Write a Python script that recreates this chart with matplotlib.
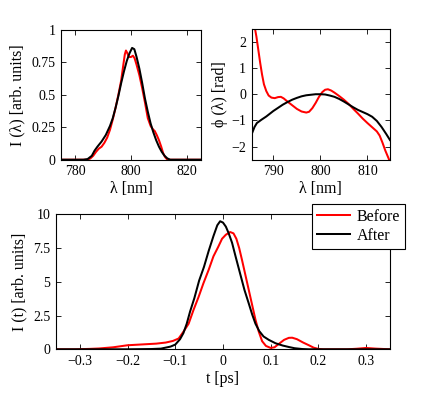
import matplotlib
matplotlib.use('Agg')
import matplotlib.pyplot as plt

# spectral intensity
lam_before = [775, 784.5, 785.5, 786.5, 787.5, 788.5, 789.5, 790.5, 791.5, 792.5, 793.5, 794.5,
              795.5, 796.5, 797.2, 797.8, 798.2, 798.7, 799.2, 800, 800.7, 801.3, 802, 803, 804,
              805, 806, 807, 807.8, 808.5, 809.2, 810, 810.8, 811.5, 812.2, 813, 825]
spec_before = [0, 0, 0.01, 0.03, 0.06, 0.085, 0.10, 0.13, 0.17, 0.23, 0.31, 0.40,
               0.50, 0.61, 0.72, 0.81, 0.84, 0.82, 0.79, 0.79, 0.80, 0.78, 0.73, 0.65, 0.55,
               0.44, 0.32, 0.26, 0.235, 0.22, 0.19, 0.15, 0.10, 0.05, 0.02, 0, 0]
lam_after = [775, 783, 784.5, 786, 787, 788, 789.5, 791, 792.5, 793.5, 794.5, 795.5, 796.5,
             797.5, 798.5, 799.5, 800.4, 801.2, 802, 803, 804, 805, 806, 807, 808, 809, 810,
             811, 812, 813, 814, 825]
spec_after = [0, 0, 0.005, 0.03, 0.07, 0.10, 0.14, 0.19, 0.26, 0.32, 0.40, 0.49, 0.59,
              0.68, 0.76, 0.82, 0.86, 0.85, 0.79, 0.70, 0.59, 0.47, 0.37, 0.28, 0.21, 0.15, 0.10,
              0.06, 0.03, 0.01, 0, 0]

# spectral phase
plam_before = [786.0, 786.4, 786.8, 787.2, 787.6, 788.0, 788.5, 789.0, 789.6, 790.3, 791.0,
               791.6, 792.2, 793.0, 794.0, 795.0, 796.0, 797.0, 797.6, 798.3, 799.0, 799.7,
               800.4, 801.0, 801.6, 802.3, 803.0, 804.0, 805.0, 806.0, 807.0, 808.0, 809.0,
               810.0, 811.0, 812.0, 812.6, 813.2, 813.8, 814.5, 814.8]
phase_before = [2.6, 2.2, 1.7, 1.2, 0.75, 0.38, 0.12, -0.05, -0.13, -0.15, -0.11,
                -0.10, -0.16, -0.28, -0.42, -0.56, -0.66, -0.70, -0.67, -0.53, -0.33, -0.10,
                0.08, 0.17, 0.19, 0.14, 0.06, -0.07, -0.21, -0.37, -0.56, -0.74, -0.93,
                -1.10, -1.26, -1.42, -1.58, -1.85, -2.15, -2.45, -2.6]
plam_after = [785.4, 786, 786.5, 787.5, 788.5, 790, 791, 792, 793, 794, 795, 796, 797, 798,
              799, 800, 801, 802, 803, 804, 805, 806, 807, 808, 809, 810, 811, 812, 813, 814, 814.8]
phase_after = [-1.52, -1.25, -1.10, -0.97, -0.85, -0.64, -0.52, -0.40, -0.30, -0.21, -0.14,
               -0.08, -0.04, -0.02, 0.0, 0.0, -0.01, -0.05, -0.10, -0.18, -0.28, -0.39, -0.50,
               -0.60, -0.68, -0.76, -0.86, -1.02, -1.25, -1.52, -1.75]

# temporal intensity
t_before = [-0.35, -0.31, -0.28, -0.26, -0.23, -0.2, -0.17, -0.14, -0.12, -0.105, -0.093,
            -0.083, -0.072, -0.062, -0.051, -0.041, -0.030, -0.020, -0.010, -0.002, 0.006,
            0.015, 0.022, 0.028, 0.034, 0.040, 0.047, 0.054, 0.061, 0.068, 0.075, 0.082, 0.090,
            0.1, 0.108, 0.117, 0.128, 0.138, 0.145, 0.155, 0.168, 0.18, 0.19, 0.2, 0.21, 0.26,
            0.28, 0.3, 0.32, 0.35]
it_before = [0, 0, 0.03, 0.06, 0.15, 0.3, 0.36, 0.42, 0.5, 0.62, 0.8,
             1.3, 1.9, 2.9, 3.9, 4.9, 5.9, 6.9, 7.6, 8.2, 8.5,
             8.7, 8.6, 8.2, 7.5, 6.6, 5.5, 4.4, 3.3, 2.2, 1.3, 0.6, 0.25,
             0.1, 0.15, 0.4, 0.7, 0.85, 0.86, 0.75, 0.5, 0.3, 0.12, 0.03, 0, 0,
             0.04, 0.1, 0.05, 0]
t_after = [-0.35, -0.2, -0.15, -0.13, -0.11, -0.10, -0.09, -0.083, -0.076, -0.069, -0.06,
           -0.05, -0.04, -0.03, -0.02, -0.012, -0.006, 0.0, 0.006, 0.012, 0.019, 0.027, 0.036,
           0.045, 0.054, 0.061, 0.068, 0.076, 0.085, 0.096, 0.11, 0.125, 0.138, 0.15, 0.166,
           0.18, 0.35]
it_after = [0, 0, 0.02, 0.05, 0.2, 0.35, 0.75, 1.2, 1.9, 2.8, 3.8,
            5.1, 6.1, 7.3, 8.4, 9.2, 9.5, 9.4, 9.1, 8.6, 7.9, 6.8, 5.6,
            4.4, 3.4, 2.6, 1.9, 1.35, 0.95, 0.7, 0.45, 0.28, 0.17, 0.08, 0.02,
            0, 0]

spec_xticks = [780, 800, 820]
spec_yticks = [0, 0.25, 0.5, 0.75, 1]
spec_ylabels = ['0', '0.25', '0.5', '0.75', '1']
phase_xticks = [790, 800, 810]
phase_yticks = [-2, -1, 0, 1, 2]
time_xticks = [-0.3, -0.2, -0.1, 0, 0.1, 0.2, 0.3]
time_xlabels = ['\u22120.3', '\u22120.2', '\u22120.1', '0', '0.1', '0.2', '0.3']
time_yticks = [0, 2.5, 5, 7.5, 10]
time_ylabels = ['0', '2.5', '5', '7.5', '10']

plt.rcParams['font.family'] = ['Liberation Serif', 'DejaVu Serif']
plt.rcParams['font.size'] = 10

RED = '#ff0000'
LW = 1.45
LABEL_FS = 11.5

fig = plt.figure(figsize=(4.31, 3.93), dpi=100)
ax1 = fig.add_axes([0.1415, 0.5936, 0.3248, 0.3308])
ax2 = fig.add_axes([0.584, 0.5936, 0.3209, 0.3333])
ax3 = fig.add_axes([0.1299, 0.1112, 0.775, 0.343])

for ax in (ax1, ax2, ax3):
    ax.tick_params(direction='in', top=True, right=True, length=3.5, width=0.6, labelsize=10, pad=4)
    for s in ax.spines.values():
        s.set_linewidth(0.8)

ax1.plot(lam_before, spec_before, color=RED, lw=LW)
ax1.plot(lam_after, spec_after, color='black', lw=LW)
ax1.set_xlim(775, 825)
ax1.set_ylim(0, 1)
ax1.set_xticks(spec_xticks)
ax1.set_yticks(spec_yticks)
ax1.set_yticklabels(spec_ylabels)
ax1.set_xlabel('\u03bb [nm]', fontsize=LABEL_FS, labelpad=2)
ax1.set_ylabel('I (\u03bb) [arb. units]', fontsize=LABEL_FS, labelpad=4)

ax2.plot(plam_before, phase_before, color=RED, lw=LW)
ax2.plot(plam_after, phase_after, color='black', lw=LW)
ax2.set_xlim(785.4, 814.8)
ax2.set_ylim(-2.5, 2.5)
ax2.set_xticks(phase_xticks)
ax2.set_yticks(phase_yticks)
ax2.set_xlabel('\u03bb [nm]', fontsize=LABEL_FS, labelpad=2)
ax2.set_ylabel('\u03d5 (\u03bb) [rad]', fontsize=LABEL_FS, labelpad=2)

ax3.plot(t_before, it_before, color=RED, lw=LW, label='Before')
ax3.plot(t_after, it_after, color='black', lw=LW, label='After')
ax3.set_xlim(-0.35, 0.35)
ax3.set_ylim(0, 10)
ax3.set_xticks(time_xticks)
ax3.set_xticklabels(time_xlabels)
ax3.set_yticks(time_yticks)
ax3.set_yticklabels(time_ylabels)
ax3.set_xlabel('t [ps]', fontsize=LABEL_FS, labelpad=2)
ax3.set_ylabel('I (t) [arb. units]', fontsize=LABEL_FS, labelpad=4)

leg = fig.legend(loc='upper left', bbox_to_anchor=(312 / 431, 1 - 204 / 393), fontsize=11.5,
                 frameon=True, fancybox=False, edgecolor='black', framealpha=1,
                 borderaxespad=0, handlelength=2.1, handletextpad=0.4, borderpad=0.3,
                 labelspacing=0.2)
leg.get_frame().set_linewidth(0.8)

fig.savefig('out.png', dpi=100)
